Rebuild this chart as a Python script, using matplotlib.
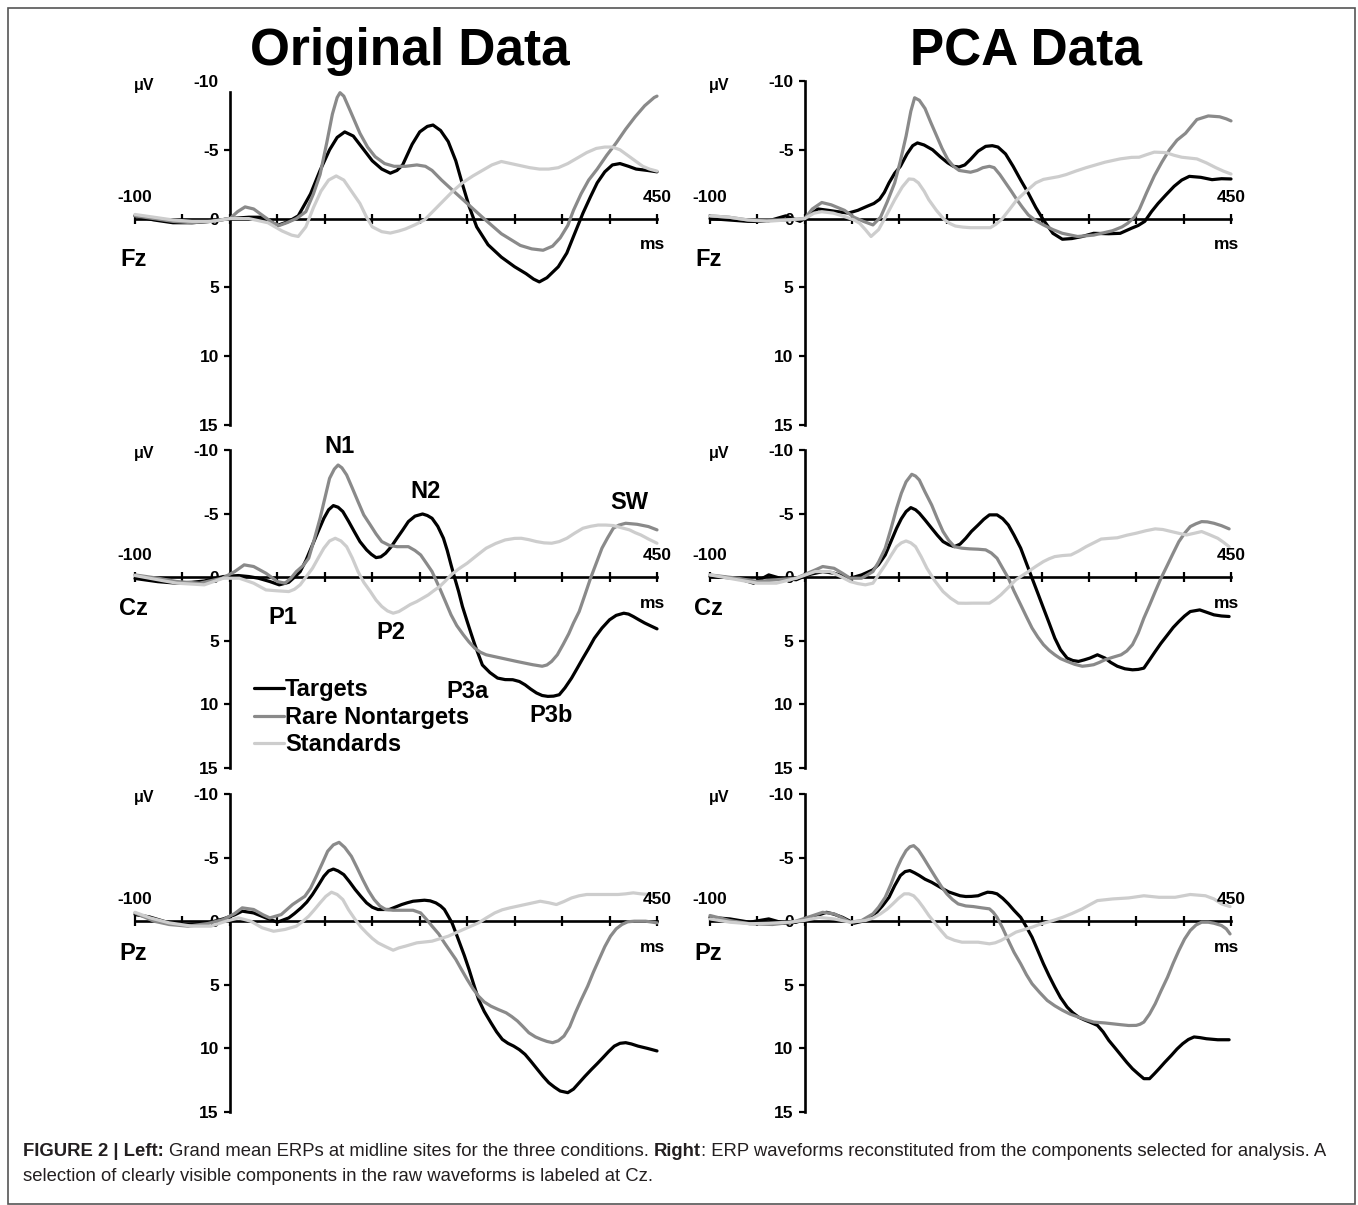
import matplotlib
matplotlib.use("Agg")
import matplotlib.pyplot as plt
from matplotlib.patches import Rectangle

plt.rcParams['font.family'] = ['Liberation Sans', 'DejaVu Sans']
plt.rcParams['axes.unicode_minus'] = False

W, H = 1358, 1205

# ---- data: (ms, microvolt) pairs ----
fz_orig_targets = [(-100,-0.2),(-80,0.1),(-60,0.3),(-40,0.3),(-20,0.2),(0,0),(20,-0.1),(35,-0.1),(50,0.5),(62,0.2),(72,-0.2),(85,-1.8),(95,-3.5),(105,-5.0),(113,-5.9),(121,-6.3),(130,-6.0),(140,-5.1),(150,-4.2),(160,-3.6),(169,-3.3),(176,-3.5),(182,-3.9),(192,-5.4),(200,-6.3),(208,-6.7),(214,-6.8),(222,-6.4),(230,-5.6),(238,-4.2),(245,-2.5),(252,-0.9),(260,0.6),(272,1.9),(286,2.8),(300,3.5),(312,4.0),(320,4.4),(326,4.6),(334,4.3),(346,3.5),(355,2.5),(362,1.3),(372,-0.4),(380,-1.6),(387,-2.6),(395,-3.4),(403,-3.9),(411,-4.0),(420,-3.8),(428,-3.6),(440,-3.5),(450,-3.4)]
fz_orig_rare = [(-100,-0.2),(-80,0.0),(-60,0.2),(-40,0.3),(-20,0.2),(0,0.0),(8,-0.5),(16,-0.85),(25,-0.7),(35,-0.2),(45,0.3),(52,0.5),(60,0.3),(70,0.0),(80,-0.5),(88,-1.8),(95,-3.2),(102,-5.5),(108,-7.6),(113,-8.8),(116,-9.15),(120,-8.9),(127,-7.8),(137,-6.2),(145,-5.2),(153,-4.5),(163,-4.0),(173,-3.8),(185,-3.8),(197,-3.9),(206,-3.8),(213,-3.5),(223,-2.8),(234,-2.1),(250,-1.1),(266,-0.1),(286,1.1),(306,1.95),(318,2.2),(330,2.3),(340,2.0),(348,1.4),(356,0.5),(362,-0.6),(370,-1.8),(378,-2.8),(387,-3.6),(397,-4.6),(407,-5.5),(417,-6.5),(427,-7.4),(437,-8.2),(447,-8.8),(450,-8.9)]
fz_orig_std = [(-100,-0.3),(-80,-0.1),(-60,0.1),(-40,0.2),(-20,0.2),(0,0.0),(20,0.0),(40,0.3),(55,0.9),(65,1.2),(72,1.3),(80,0.6),(88,-0.8),(96,-2.0),(104,-2.8),(112,-3.1),(120,-2.8),(128,-2.0),(137,-1.1),(144,-0.1),(150,0.6),(160,0.95),(169,1.05),(178,0.9),(185,0.75),(195,0.45),(205,0.1),(215,-0.6),(225,-1.3),(235,-2.0),(245,-2.6),(256,-3.1),(266,-3.5),(276,-3.9),(286,-4.15),(296,-4.0),(306,-3.85),(316,-3.7),(326,-3.6),(336,-3.6),(346,-3.7),(356,-4.0),(366,-4.4),(376,-4.8),(386,-5.1),(395,-5.2),(403,-5.2),(411,-5.0),(419,-4.6),(427,-4.2),(435,-3.8),(442,-3.6),(450,-3.45)]

fz_pca_targets = [(-100,0.0),(-80,0.1),(-60,0.2),(-40,0.2),(-20,-0.2),(-5,0.2),(0,0.0),(8,-0.4),(14,-0.7),(25,-0.6),(35,-0.5),(46,-0.4),(56,-0.6),(66,-0.9),(73,-1.1),(79,-1.4),(84,-1.9),(89,-2.6),(95,-3.3),(101,-3.8),(108,-4.7),(114,-5.3),(119,-5.5),(126,-5.35),(135,-5.0),(143,-4.5),(151,-4.05),(157,-3.8),(163,-3.75),(169,-3.9),(175,-4.3),(183,-4.9),(191,-5.25),(198,-5.3),(204,-5.2),(212,-4.7),(220,-3.8),(228,-2.8),(236,-1.85),(244,-0.8),(252,0.1),(262,1.07),(272,1.5),(282,1.45),(293,1.3),(305,1.07),(321,1.1),(333,1.07),(345,0.7),(352,0.5),(359,0.2),(366,-0.5),(373,-1.1),(381,-1.7),(390,-2.35),(398,-2.8),(406,-3.07),(418,-3.0),(430,-2.83),(440,-2.9),(450,-2.88)]
fz_pca_rare = [(-100,-0.2),(-80,-0.1),(-60,0.1),(-40,0.1),(-20,0.1),(0,0.0),(8,-0.7),(18,-1.17),(28,-1.0),(42,-0.6),(52,-0.1),(62,0.2),(72,0.46),(80,-0.1),(87,-1.2),(95,-2.6),(101,-4.2),(107,-6.0),(112,-7.8),(116,-8.78),(121,-8.6),(127,-8.0),(133,-7.0),(139,-6.05),(145,-5.1),(151,-4.3),(157,-3.8),(163,-3.5),(175,-3.37),(182,-3.5),(188,-3.7),(195,-3.8),(200,-3.7),(206,-3.2),(212,-2.6),(218,-2.0),(224,-1.37),(230,-0.8),(236,-0.27),(244,0.15),(252,0.46),(262,0.8),(272,1.07),(288,1.3),(305,1.2),(325,0.88),(335,0.6),(341,0.34),(348,-0.1),(353,-0.63),(361,-1.9),(369,-3.1),(377,-4.1),(385,-5.0),(393,-5.7),(402,-6.2),(414,-7.2),(426,-7.46),(438,-7.4),(445,-7.25),(450,-7.1)]
fz_pca_std = [(-100,-0.2),(-80,-0.1),(-60,0.1),(-40,0.2),(-20,0.1),(0,0.0),(10,-0.4),(18,-0.5),(30,-0.4),(42,-0.15),(52,0.1),(58,0.34),(64,0.8),(70,1.3),(78,0.8),(86,-0.2),(95,-1.37),(103,-2.3),(110,-2.88),(115,-2.85),(120,-2.6),(126,-2.0),(131,-1.37),(139,-0.6),(147,0.05),(153,0.35),(159,0.54),(167,0.62),(175,0.66),(185,0.66),(196,0.66),(202,0.4),(208,0.05),(216,-0.65),(224,-1.37),(234,-2.0),(244,-2.6),(252,-2.85),(260,-2.95),(268,-3.05),(276,-3.2),(286,-3.45),(297,-3.7),(307,-3.9),(317,-4.1),(333,-4.34),(345,-4.45),(353,-4.46),(361,-4.65),(369,-4.83),(381,-4.8),(390,-4.6),(398,-4.46),(406,-4.4),(414,-4.34),(424,-4.05),(434,-3.7),(442,-3.45),(450,-3.24)]

cz_orig_targets = [(-100,0.1),(-76,0.35),(-56,0.47),(-40,0.4),(-27,0.3),(-7,-0.05),(9,-0.13),(20,-0.05),(30,0.08),(42,0.34),(52,0.6),(62,0.4),(68,0.0),(74,-0.44),(80,-1.3),(87,-2.54),(93,-3.6),(99,-4.63),(104,-5.3),(109,-5.63),(114,-5.5),(119,-5.16),(125,-4.4),(131,-3.59),(137,-2.8),(144,-2.15),(149,-1.8),(154,-1.54),(159,-1.6),(164,-1.88),(170,-2.4),(176,-3.06),(182,-3.7),(188,-4.37),(195,-4.8),(203,-4.97),(208,-4.85),(213,-4.63),(219,-4.0),(225,-3.06),(229,-2.1),(233,-0.97),(237,0.1),(241,1.13),(245,2.3),(250,3.48),(254,4.4),(258,5.3),(262,6.1),(266,6.9),(274,7.5),(282,7.93),(290,8.05),(298,8.06),(305,8.2),(311,8.46),(317,8.8),(323,9.1),(329,9.3),(335,9.37),(341,9.35),(347,9.24),(353,8.7),(360,7.93),(366,7.15),(372,6.36),(378,5.6),(384,4.8),(392,4.0),(400,3.35),(407,3.0),(415,2.83),(420,2.9),(425,3.09),(431,3.35),(437,3.6),(444,3.85),(450,4.06)]
cz_orig_rare = [(-100,-0.18),(-76,0.08),(-56,0.34),(-32,0.47),(-8,0.08),(5,-0.44),(15,-0.97),(25,-0.84),(38,-0.31),(50,0.34),(58,0.47),(64,0.1),(70,-0.44),(77,-0.9),(83,-1.49),(89,-3.0),(95,-4.63),(100,-6.2),(105,-7.77),(110,-8.5),(114,-8.82),(118,-8.6),(123,-8.04),(129,-7.0),(135,-5.94),(141,-4.9),(148,-4.1),(154,-3.4),(160,-2.8),(168,-2.5),(176,-2.4),(188,-2.4),(195,-2.1),(201,-1.75),(207,-1.1),(213,-0.44),(221,0.86),(227,1.9),(233,2.96),(239,3.8),(246,4.53),(252,5.1),(258,5.58),(264,5.9),(270,6.1),(286,6.36),(302,6.62),(319,6.88),(329,7.0),(334,6.9),(339,6.62),(345,6.1),(351,5.3),(357,4.45),(362,3.6),(368,2.7),(374,1.4),(380,0.08),(386,-1.1),(392,-2.28),(398,-3.1),(404,-3.85),(410,-4.1),(417,-4.24),(429,-4.16),(441,-3.98),(450,-3.72)]
cz_orig_std = [(-100,-0.13),(-76,0.2),(-56,0.47),(-27,0.6),(-7,0.08),(10,0.08),(25,0.47),(38,1.0),(50,1.07),(62,1.13),(68,0.95),(74,0.6),(80,0.0),(87,-0.7),(93,-1.5),(99,-2.28),(105,-2.85),(111,-3.06),(117,-2.85),(123,-2.4),(129,-1.5),(135,-0.44),(141,0.4),(148,1.13),(154,1.8),(160,2.3),(166,2.65),(172,2.83),(178,2.7),(184,2.43),(190,2.15),(197,1.91),(203,1.65),(209,1.39),(215,1.05),(221,0.73),(227,0.3),(233,-0.18),(241,-0.65),(250,-1.1),(260,-1.7),(270,-2.28),(280,-2.65),(290,-2.93),(300,-3.05),(307,-3.06),(315,-2.95),(323,-2.8),(331,-2.7),(339,-2.67),(347,-2.8),(355,-3.06),(363,-3.45),(372,-3.85),(380,-4.0),(388,-4.1),(396,-4.1),(404,-4.06),(412,-3.9),(421,-3.72),(427,-3.5),(433,-3.32),(441,-3.0),(450,-2.67)]

cz_pca_targets = [(-100,-0.05),(-71,0.08),(-54,0.47),(-38,-0.18),(-26,0.08),(-9,0.2),(3,-0.18),(19,-0.44),(31,-0.31),(40,-0.1),(48,0.08),(60,-0.18),(72,-0.58),(78,-1.0),(85,-1.75),(91,-2.8),(97,-3.85),(102,-4.6),(107,-5.16),(112,-5.47),(117,-5.3),(121,-5.03),(127,-4.5),(134,-3.85),(140,-3.3),(146,-2.8),(152,-2.55),(158,-2.4),(164,-2.6),(170,-3.06),(176,-3.6),(183,-4.1),(189,-4.55),(195,-4.9),(203,-4.9),(209,-4.6),(215,-4.1),(221,-3.3),(228,-2.28),(234,-1.1),(240,0.08),(246,1.25),(252,2.43),(258,3.6),(264,4.79),(270,5.7),(277,6.36),(283,6.55),(289,6.62),(295,6.5),(301,6.36),(309,6.1),(317,6.36),(323,6.7),(330,7.0),(338,7.2),(346,7.28),(352,7.25),(358,7.15),(364,6.5),(370,5.84),(376,5.2),(383,4.53),(389,3.95),(395,3.48),(401,3.05),(407,2.7),(417,2.57),(424,2.75),(432,2.96),(440,3.05),(448,3.09)]
cz_pca_rare = [(-100,-0.18),(-71,0.08),(-50,0.34),(-30,0.2),(-9,0.08),(3,-0.31),(12,-0.6),(19,-0.84),(31,-0.7),(40,-0.3),(48,0.08),(60,0.08),(72,-0.44),(78,-1.2),(85,-2.28),(91,-3.8),(97,-5.42),(102,-6.6),(107,-7.5),(113,-8.09),(117,-7.95),(121,-7.64),(127,-6.7),(134,-5.68),(140,-4.6),(146,-3.59),(152,-2.9),(158,-2.4),(166,-2.28),(174,-2.23),(183,-2.2),(191,-2.15),(197,-1.9),(203,-1.49),(209,-0.7),(215,0.08),(221,1.1),(228,2.17),(234,3.1),(240,4.0),(246,4.7),(252,5.3),(258,5.75),(264,6.1),(270,6.4),(277,6.62),(285,6.85),(293,7.0),(299,6.95),(305,6.88),(311,6.7),(317,6.49),(325,6.3),(334,6.1),(340,5.8),(346,5.3),(352,4.4),(358,3.22),(364,2.2),(370,1.13),(376,0.1),(383,-0.97),(389,-1.9),(395,-2.8),(401,-3.45),(407,-3.98),(413,-4.2),(419,-4.37),(425,-4.35),(432,-4.24),(440,-4.05),(448,-3.8)]
cz_pca_std = [(-100,-0.18),(-71,0.2),(-50,0.47),(-30,0.47),(-9,0.08),(11,-0.44),(27,-0.44),(38,-0.05),(48,0.34),(56,0.5),(64,0.6),(72,0.47),(78,-0.2),(85,-0.97),(91,-1.7),(97,-2.4),(102,-2.7),(107,-2.85),(112,-2.7),(117,-2.4),(123,-1.6),(129,-0.7),(137,0.25),(146,1.13),(154,1.65),(162,2.04),(170,2.05),(178,2.04),(186,2.04),(195,2.04),(201,1.75),(207,1.39),(215,0.8),(223,0.2),(230,-0.15),(236,-0.44),(244,-0.85),(252,-1.23),(258,-1.45),(264,-1.62),(272,-1.7),(281,-1.75),(289,-2.05),(297,-2.4),(305,-2.7),(313,-3.0),(321,-3.05),(330,-3.1),(340,-3.3),(350,-3.46),(360,-3.65),(370,-3.8),(378,-3.75),(387,-3.59),(395,-3.45),(403,-3.32),(411,-3.45),(419,-3.59),(427,-3.35),(436,-3.06),(442,-2.75),(448,-2.4)]

pz_orig_targets = [(-100,-0.52),(-85,-0.34),(-64,0.13),(-44,0.26),(-23,0.13),(-7,-0.18),(5,-0.5),(13,-0.79),(25,-0.65),(38,-0.26),(50,0.08),(62,-0.26),(68,-0.6),(75,-1.05),(81,-1.5),(87,-2.1),(93,-2.8),(99,-3.53),(104,-3.95),(109,-4.1),(114,-3.95),(120,-3.66),(126,-3.1),(132,-2.49),(138,-1.95),(144,-1.44),(150,-1.1),(156,-0.92),(168,-0.92),(174,-1.1),(181,-1.31),(187,-1.45),(193,-1.57),(205,-1.65),(211,-1.6),(217,-1.44),(222,-1.2),(226,-0.92),(230,-0.4),(234,0.13),(238,0.9),(242,1.7),(247,2.7),(252,3.8),(257,5.0),(262,6.15),(268,7.1),(275,7.98),(281,8.7),(287,9.29),(293,9.6),(299,9.82),(305,10.1),(311,10.47),(317,11.0),(324,11.65),(330,12.2),(336,12.7),(342,13.05),(348,13.35),(356,13.48),(362,13.2),(368,12.7),(374,12.2),(381,11.65),(387,11.2),(393,10.73),(399,10.25),(405,9.82),(411,9.6),(417,9.55),(423,9.65),(430,9.82),(440,10.0),(450,10.2)]
pz_orig_rare = [(-100,-0.65),(-80,0.0),(-64,0.26),(-44,0.39),(-23,0.18),(-7,-0.13),(5,-0.6),(13,-1.05),(25,-0.92),(35,-0.5),(42,-0.26),(54,-0.52),(66,-1.31),(79,-1.96),(85,-2.6),(91,-3.53),(97,-4.5),(103,-5.5),(109,-6.0),(115,-6.2),(121,-5.8),(128,-5.1),(134,-4.2),(140,-3.27),(146,-2.4),(152,-1.7),(158,-1.2),(164,-0.92),(172,-0.86),(181,-0.86),(193,-0.86),(201,-0.65),(207,-0.15),(213,0.39),(220,1.0),(226,1.7),(232,2.35),(238,3.0),(244,3.8),(250,4.58),(256,5.3),(262,5.9),(268,6.35),(275,6.68),(283,6.95),(291,7.2),(297,7.5),(303,7.85),(309,8.3),(315,8.77),(322,9.1),(328,9.29),(334,9.45),(340,9.55),(346,9.4),(352,9.03),(358,8.3),(364,7.2),(370,6.2),(377,5.1),(383,4.0),(389,3.0),(395,2.0),(401,1.18),(407,0.6),(413,0.26),(419,0.05),(426,0.0),(438,0.0),(450,0.13)]
pz_orig_std = [(-100,-0.7),(-84,-0.26),(-64,0.13),(-40,0.39),(-20,0.39),(-4,0.0),(9,-0.26),(22,0.0),(34,0.52),(46,0.79),(58,0.65),(70,0.39),(77,0.0),(83,-0.39),(89,-0.9),(95,-1.44),(101,-1.95),(107,-2.28),(113,-2.1),(119,-1.7),(125,-0.9),(132,-0.13),(138,0.45),(144,0.92),(150,1.35),(156,1.7),(164,2.0),(172,2.28),(178,2.1),(185,1.96),(197,1.7),(213,1.57),(230,1.18),(246,0.65),(262,0.13),(270,-0.25),(279,-0.65),(287,-0.9),(295,-1.05),(311,-1.31),(327,-1.57),(336,-1.45),(344,-1.31),(352,-1.55),(360,-1.83),(368,-2.0),(376,-2.1),(393,-2.1),(409,-2.1),(417,-2.15),(425,-2.23),(433,-2.15),(442,-2.1),(450,-1.96)]

pz_pca_targets = [(-100,-0.3),(-79,-0.18),(-58,0.08),(-38,-0.18),(-22,0.16),(-9,0.08),(7,-0.3),(15,-0.5),(23,-0.7),(31,-0.55),(40,-0.3),(52,0.16),(64,-0.05),(70,-0.35),(76,-0.7),(82,-1.2),(89,-1.88),(95,-2.8),(101,-3.59),(106,-3.9),(111,-3.98),(116,-3.8),(121,-3.59),(127,-3.3),(134,-3.06),(140,-2.8),(146,-2.54),(152,-2.3),(158,-2.15),(164,-2.0),(170,-1.94),(176,-1.95),(183,-2.0),(188,-2.15),(193,-2.28),(198,-2.25),(203,-2.15),(209,-1.8),(215,-1.36),(221,-0.85),(228,-0.3),(234,0.45),(240,1.26),(246,2.3),(252,3.35),(258,4.3),(264,5.18),(270,6.0),(277,6.75),(283,7.2),(289,7.54),(295,7.75),(301,7.93),(309,8.19),(315,8.7),(321,9.37),(328,10.0),(334,10.55),(340,11.1),(346,11.6),(352,12.0),(358,12.38),(364,12.38),(369,12.0),(374,11.6),(380,11.1),(387,10.55),(393,10.05),(399,9.63),(405,9.3),(411,9.1),(417,9.15),(424,9.24),(436,9.32),(448,9.32)]
pz_pca_rare = [(-100,-0.45),(-79,-0.05),(-58,0.2),(-34,0.26),(-13,0.08),(3,-0.3),(11,-0.5),(19,-0.7),(31,-0.58),(40,-0.25),(48,0.08),(60,-0.05),(72,-0.58),(78,-1.1),(85,-1.88),(91,-2.9),(97,-4.1),(102,-4.9),(107,-5.55),(111,-5.85),(115,-5.94),(120,-5.6),(125,-5.03),(131,-4.3),(138,-3.46),(144,-2.75),(150,-2.15),(156,-1.7),(162,-1.36),(170,-1.2),(178,-1.15),(187,-1.05),(195,-0.97),(199,-0.7),(203,-0.3),(209,0.55),(215,1.52),(221,2.45),(228,3.35),(234,4.2),(240,4.92),(248,5.6),(256,6.23),(264,6.65),(272,7.0),(280,7.3),(289,7.54),(297,7.75),(305,7.93),(317,8.0),(334,8.14),(342,8.2),(350,8.19),(354,8.1),(358,7.93),(364,7.3),(370,6.49),(376,5.5),(383,4.4),(389,3.3),(395,2.3),(401,1.4),(407,0.73),(413,0.3),(419,0.08),(426,0.08),(432,0.16),(440,0.34),(445,0.6),(449,1.0)]
pz_pca_std = [(-100,-0.18),(-79,0.08),(-58,0.2),(-38,0.16),(-17,0.08),(-1,-0.05),(15,-0.3),(31,-0.18),(48,0.08),(64,-0.05),(72,-0.25),(80,-0.58),(87,-0.95),(93,-1.36),(99,-1.8),(105,-2.15),(110,-2.15),(115,-2.0),(120,-1.6),(125,-1.1),(131,-0.45),(138,0.2),(144,0.75),(150,1.26),(158,1.5),(166,1.65),(174,1.65),(183,1.65),(195,1.78),(201,1.7),(207,1.52),(215,1.2),(223,0.86),(232,0.65),(240,0.47),(248,0.25),(256,0.08),(264,-0.1),(272,-0.3),(282,-0.6),(293,-0.97),(301,-1.3),(309,-1.62),(325,-1.75),(342,-1.83),(358,-2.0),(374,-1.88),(391,-1.88),(407,-2.1),(423,-2.0),(432,-1.75),(440,-1.36),(449,-1.15)]

conditions = ['Targets', 'Rare Nontargets', 'Standards']
colors = ['#000000', '#8a8a8a', '#cdcdcd']
sites = ['Fz', 'Cz', 'Pz']
titles = ['Original Data', 'PCA Data']
yticks = [-10, -5, 0, 5, 10, 15]
xticks = list(range(-100, 451, 50))

cz_components = [('N1', 115, -10.3), ('N2', 206, -6.7), ('SW', 421, -5.9), ('P1', 56, 3.2),
                 ('P2', 170, 4.35), ('P3a', 250, 9.0), ('P3b', 338, 10.9)]

panels = {
    (0, 0): [fz_orig_targets, fz_orig_rare, fz_orig_std],
    (0, 1): [fz_pca_targets, fz_pca_rare, fz_pca_std],
    (1, 0): [cz_orig_targets, cz_orig_rare, cz_orig_std],
    (1, 1): [cz_pca_targets, cz_pca_rare, cz_pca_std],
    (2, 0): [pz_orig_targets, pz_orig_rare, pz_orig_std],
    (2, 1): [pz_pca_targets, pz_pca_rare, pz_pca_std],
}

# pixel layout of each panel: x of -100 / 450, y of -10 / 15
col_x = [(135, 657), (710, 1231)]
row_y = [(81, 425), (450, 768), (794, 1112)]
site_offset = [2.95, 2.45, 2.5]

fig = plt.figure(figsize=(W / 100, H / 100), dpi=100)
fig.patch.set_facecolor('white')

for (r, c), series in panels.items():
    x0, x1 = col_x[c]
    y0, y1 = row_y[r]
    ax = fig.add_axes([x0 / W, 1 - y1 / H, (x1 - x0) / W, (y1 - y0) / H])
    ax.set_xlim(-100, 450)
    ax.set_ylim(15, -10)
    ax.patch.set_alpha(0)
    for s in ['top', 'right']:
        ax.spines[s].set_visible(False)
    ax.spines['left'].set_position(('data', 0))
    ax.spines['bottom'].set_position(('data', 0))
    for s in ['left', 'bottom']:
        ax.spines[s].set_linewidth(1.9)
    ax.set_xticks(xticks)
    ax.set_xticklabels([])
    ax.tick_params(axis='x', direction='inout', length=7, width=1.6)
    ax.set_yticks(yticks)
    ax.set_yticklabels([str(v) for v in yticks], fontsize=12.5, fontweight='bold')
    ax.tick_params(axis='y', direction='out', length=4, width=1.6, pad=4)
    if (r, c) == (0, 0):
        # the upper end of this axis stops a little short of -10
        ax.spines['left'].set_bounds(15, -9.2)
        ax.yaxis.get_major_ticks()[0].tick1line.set_visible(False)

    lines = []
    for pts, col, lab in zip(series, colors, conditions):
        t = [p[0] for p in pts]
        v = [p[1] for p in pts]
        ln, = ax.plot(t, v, color=col, lw=2.3, label=lab, zorder=3, clip_on=False,
                      solid_joinstyle='round', solid_capstyle='round')
        lines.append(ln)

    bold = dict(fontweight='bold', ha='center', va='center', clip_on=False)
    ax.annotate('-100', xy=(-100, 0), xytext=(0, 15.5), textcoords='offset points', fontsize=12.5, **bold)
    ax.annotate('450', xy=(450, 0), xytext=(0, 15.5), textcoords='offset points', fontsize=12.5, **bold)
    ax.annotate('ms', xy=(445, 0), xytext=(0, -19), textcoords='offset points', fontsize=12.5, **bold)
    ax.text(-90, -9.7, 'μV', fontsize=11.5, **bold)
    ax.text(-102, site_offset[r], sites[r], fontsize=17, **bold)

    if (r, c) == (1, 0):
        for name, tx, ty in cz_components:
            ax.text(tx, ty, name, fontsize=17, **bold)
        ax.legend(lines, conditions, loc='upper left', bbox_to_anchor=(25.5, 7.95),
                  bbox_transform=ax.transData, frameon=False, handlelength=1.25,
                  handletextpad=0.05, labelspacing=0.19, borderpad=0, borderaxespad=0,
                  prop=dict(size=17, weight='bold'))

# column titles
for c, title in enumerate(titles):
    cx = [410, 1026][c]
    fig.text(cx / W, 1 - 65 / H, title, fontsize=37, fontweight='bold', ha='center', va='baseline')

# outer frame
fig.patches.append(Rectangle((7.5 / W, 1 - 1204 / H), (1355 - 7.5) / W, (1204 - 8) / H,
                             transform=fig.transFigure, fill=False, edgecolor='#555555', lw=1.2))

# caption with bold parts
rend = fig.canvas.get_renderer()
cap_style = dict(fontsize=13.3, color='#231f20', va='baseline', ha='left')


def text_width(s, weight):
    t = fig.text(0, 0, s, fontweight=weight, **cap_style)
    w = t.get_window_extent(renderer=rend).width
    t.remove()
    return w


space = text_width('x x', 'normal') - text_width('xx', 'normal')


def caption_line(x, y, parts):
    for s, b, gap in parts:
        x += gap * space
        t = fig.text(x / W, 1 - y / H, s, fontweight='bold' if b else 'normal', **cap_style)
        x += t.get_window_extent(renderer=rend).width


caption_line(23, 1156, [('FIGURE 2 | Left:', True, 0),
                        ('Grand mean ERPs at midline sites for the three conditions.', False, 1),
                        ('Right', True, 1),
                        (': ERP waveforms reconstituted from the components selected for analysis. A', False, 0)])
caption_line(23, 1181, [('selection of clearly visible components in the raw waveforms is labeled at Cz.', False, 0)])

fig.savefig('out.png', dpi=100, facecolor='white')
